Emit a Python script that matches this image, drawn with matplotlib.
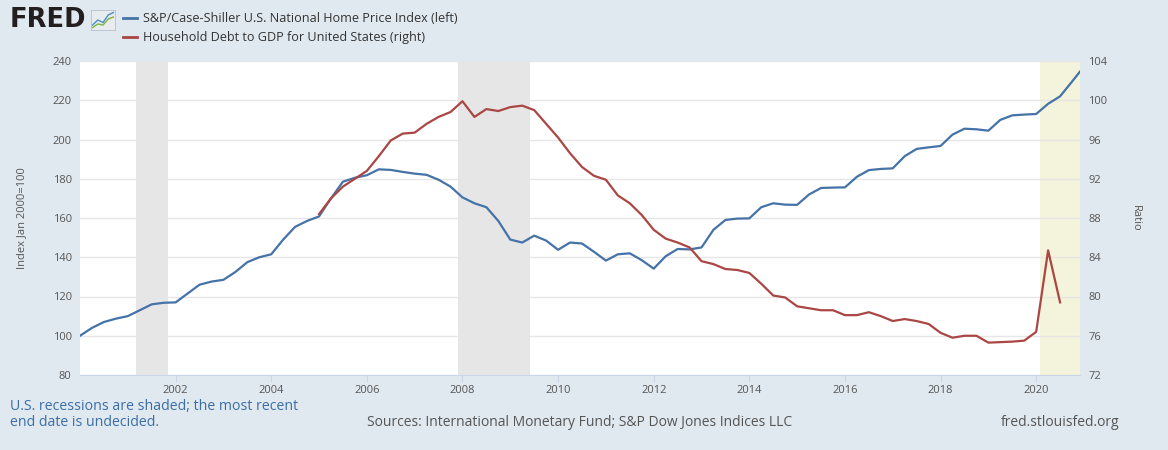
import numpy as np
import matplotlib
matplotlib.use("Agg")
import matplotlib.pyplot as plt

plt.rcParams['font.family'] = ['Open Sans', 'DejaVu Sans']

# S&P/Case-Shiller U.S. National Home Price Index, quarterly readings (Jan, Apr, Jul, Oct) + Dec 2020
hpi_years = list(range(2000, 2021))
hpi_values = [
    [100.0, 104.0, 107.0, 108.7],
    [110.0, 113.0, 116.0, 116.8],
    [117.0, 121.5, 126.0, 127.6],
    [128.5, 132.5, 137.5, 140.0],
    [141.5, 149.0, 155.5, 158.5],
    [160.8, 170.0, 178.5, 180.5],
    [181.8, 184.8, 184.5, 183.5],
    [182.6, 182.0, 179.5, 176.0],
    [170.5, 167.5, 165.5, 158.5],
    [149.0, 147.5, 151.0, 148.5],
    [143.8, 147.5, 147.0, 142.8],
    [138.3, 141.5, 142.0, 138.5],
    [134.2, 140.5, 144.2, 144.0],
    [145.0, 154.0, 159.0, 159.7],
    [159.8, 165.5, 167.5, 166.8],
    [166.7, 172.0, 175.3, 175.5],
    [175.6, 181.0, 184.4, 185.0],
    [185.3, 191.5, 195.2, 196.0],
    [196.7, 202.5, 205.5, 205.2],
    [204.5, 210.0, 212.3, 212.7],
    [213.0, 218.2, 222.0, 229.5],
]
hpi_last_date = 2020 + 11 / 12
hpi_last_value = 234.6

# Household Debt to GDP for United States, quarterly from 2005 Q1
debt_start_year = 2005
debt_values = [
    88.4, 90.0, 91.2, 92.0,
    92.8, 94.3, 95.9, 96.6,
    96.7, 97.6, 98.3, 98.8,
    99.9, 98.3, 99.1, 98.9,
    99.3, 99.45, 99.0, 97.6,
    96.2, 94.6, 93.2, 92.3,
    91.9, 90.3, 89.5, 88.3,
    86.8, 85.9, 85.5, 85.0,
    83.6, 83.3, 82.8, 82.7,
    82.4, 81.3, 80.1, 79.9,
    79.0, 78.8, 78.6, 78.6,
    78.1, 78.1, 78.4, 78.0,
    77.5, 77.7, 77.5, 77.2,
    76.3, 75.8, 76.0, 76.0,
    75.3, 75.35, 75.4, 75.5,
    76.4, 84.7, 79.4,
]

recessions = [(2001 + 2 / 12, 2001 + 10 / 12), (2007 + 11 / 12, 2009 + 5 / 12)]
covid_start = 2020 + 1 / 12

hpi_x = [y + q * 0.25 for y in hpi_years for q in range(4)] + [hpi_last_date]
hpi_y = [v for row in hpi_values for v in row] + [hpi_last_value]
debt_x = [debt_start_year + i * 0.25 for i in range(len(debt_values))]

bg = '#e1e9f0'
blue = '#4572a7'
red = '#aa4643'
tick_col = '#555555'

fig = plt.figure(figsize=(11.68, 4.5), dpi=100, facecolor=bg)
ax = fig.add_axes([80 / 1168, 1 - 375 / 450, 1000 / 1168, 314 / 450])
ax.set_facecolor('white')
ax2 = ax.twinx()

for a, b in recessions:
    ax.axvspan(a, b, color='#e6e6e6', lw=0, zorder=0)
ax.axvspan(covid_start, hpi_last_date, color='#f4f3db', lw=0, zorder=0)

ax.plot(hpi_x, hpi_y, color=blue, lw=1.6, zorder=3)
ax2.plot(debt_x, debt_values, color=red, lw=1.6, zorder=3)

ax.set_xlim(2000, hpi_last_date)
ax.set_ylim(80, 240)
ax2.set_ylim(72, 104)
ax.set_yticks(np.arange(80, 241, 20))
ax2.set_yticks(np.arange(72, 105, 4))
ax.set_xticks(np.arange(2002, 2021, 2))
ax.grid(axis='y', color='#e6e6e6', lw=1)
ax.set_axisbelow(True)

for a in (ax, ax2):
    for s in a.spines.values():
        s.set_visible(False)
    a.tick_params(axis='y', length=0, labelsize=8, colors=tick_col, pad=6)
ax.spines['bottom'].set_visible(True)
ax.spines['bottom'].set_color('#ccd6eb')
ax.tick_params(axis='x', length=5, color='#ccd6eb', labelsize=8, labelcolor=tick_col, pad=2)

ax.set_ylabel('Index Jan 2000=100', fontsize=8, color=tick_col, labelpad=18)
ax2.set_ylabel('Ratio', fontsize=8, color=tick_col, rotation=270, labelpad=24)

# header
fig.text(10 / 1168, 1 - 20 / 450, 'FRED', fontsize=18.5, fontweight='heavy', color='#231f20',
         va='center', ha='left', family='DejaVu Sans')
icon = fig.add_axes([91 / 1168, 1 - 30 / 450, 24 / 1168, 20 / 450])
icon.set_facecolor('#e8ecef')
icon.set_xticks([])
icon.set_yticks([])
for s in icon.spines.values():
    s.set_color('#b0b8c0')
    s.set_linewidth(0.5)
icon.plot([0, 1, 2, 3, 4], [1, 2, 1.5, 3, 3.5], color='#4b8fc9', lw=1)
icon.plot([0, 1, 2, 3, 4], [0.5, 1.2, 1.0, 2.2, 2.6], color='#7cb342', lw=1)
icon.set_xlim(-0.3, 4.3)
icon.set_ylim(0, 4)

fig.lines.append(plt.Line2D([123 / 1168, 137 / 1168], [1 - 18 / 450] * 2, color=blue, lw=2,
                            transform=fig.transFigure))
fig.lines.append(plt.Line2D([123 / 1168, 137 / 1168], [1 - 37 / 450] * 2, color=red, lw=2,
                            transform=fig.transFigure))
fig.text(143 / 1168, 1 - 18 / 450, 'S&P/Case-Shiller U.S. National Home Price Index (left)',
         fontsize=9.1, color='#333333', va='center')
fig.text(143 / 1168, 1 - 37 / 450, 'Household Debt to GDP for United States (right)',
         fontsize=9.1, color='#333333', va='center')

# footer
fig.text(10 / 1168, 1 - 407 / 450, 'U.S. recessions are shaded; the most recent',
         fontsize=10.2, color='#3a6ea5', va='center')
fig.text(10 / 1168, 1 - 423 / 450, 'end date is undecided.',
         fontsize=10.2, color='#3a6ea5', va='center')
fig.text(367 / 1168, 1 - 423 / 450, 'Sources: International Monetary Fund; S&P Dow Jones Indices LLC',
         fontsize=10, color='#555555', va='center')
fig.text(1119 / 1168, 1 - 423 / 450, 'fred.stlouisfed.org', fontsize=10, color='#555555',
         va='center', ha='right')

fig.savefig('out.png', dpi=100, facecolor=bg)
